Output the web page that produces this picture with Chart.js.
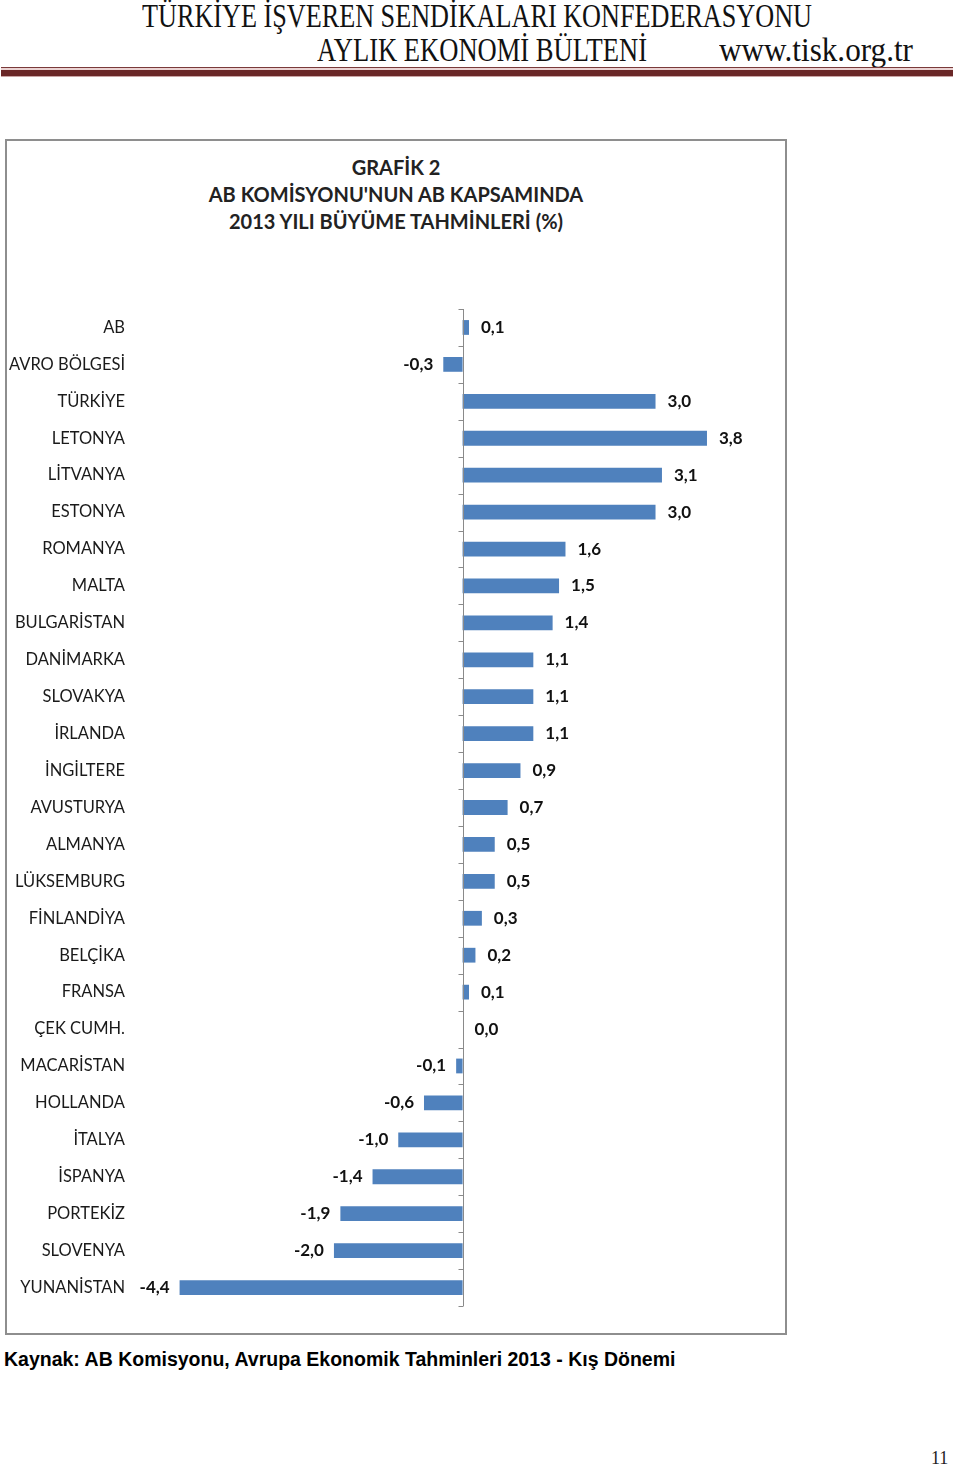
<!DOCTYPE html>
<html>
<head>
<meta charset="utf-8">
<script src="https://cdn.jsdelivr.net/npm/chart.js@4.4.1/dist/chart.umd.min.js"></script>
<style>
  html, body { margin: 0; padding: 0; background: #fff; }
  body { width: 960px; height: 1465px; position: relative; overflow: hidden; }
  .hdr { position: absolute; font-family: "Liberation Serif", serif; color: #111; white-space: nowrap; transform-origin: 0 0; line-height: 1; }
  #rule { position: absolute; left: 1px; top: 67px; width: 952px; height: 10px; }
  #rule div { position: absolute; left: 0; width: 100%; }
  #box { position: absolute; left: 5px; top: 139px; width: 778px; height: 1192px; border: 2px solid #8e8e8e; }
  #title { position: absolute; left: 5px; top: 154px; width: 782px; text-align: center; font-family: Lato, "Open Sans", sans-serif; font-weight: bold; font-size: 20px; line-height: 27px; color: #222; }
  #wrap { position: absolute; left: 6px; top: 140px; width: 779px; height: 1193px; }
  #src { position: absolute; left: 4px; top: 1348px; font-family: "Liberation Sans", Arial, sans-serif; font-weight: bold; font-size: 19.5px; color: #000; white-space: nowrap; }
  #pg { position: absolute; left: 931px; top: 1448px; font-family: "Liberation Serif", serif; font-size: 18px; color: #222; }
</style>
</head>
<body>
<div class="hdr" id="h1" data-w="670" style="left:142px; top:0px; font-size:33px;">TÜRKİYE İŞVEREN SENDİKALARI KONFEDERASYONU</div>
<div class="hdr" id="h2" data-w="330" style="left:317px; top:34px; font-size:33px;">AYLIK EKONOMİ BÜLTENİ</div>
<div class="hdr" id="h3" data-w="194" style="left:719px; top:34px; font-size:33px;">www.tisk.org.tr</div>
<div id="rule">
  <div style="top:0; height:1px; background:#7a3a3a;"></div>
  <div style="top:1px; height:2px; background:#ead2d2;"></div>
  <div style="top:3px; height:6px; background:#6a2727;"></div>
  <div style="top:9px; height:1px; background:#caa4a4;"></div>
</div>
<div id="box"></div>
<div id="title">GRAFİK 2<br>AB KOMİSYONU'NUN AB KAPSAMINDA<br>2013 YILI BÜYÜME TAHMİNLERİ (%)</div>
<div id="wrap"><canvas id="c"></canvas></div>
<div id="src">Kaynak: AB Komisyonu, Avrupa Ekonomik Tahminleri 2013 - Kış Dönemi</div>
<div id="pg">11</div>
<script>
// ---- data ----
const categories = ["AB", "AVRO BÖLGESİ", "TÜRKİYE", "LETONYA", "LİTVANYA", "ESTONYA", "ROMANYA", "MALTA", "BULGARİSTAN", "DANİMARKA", "SLOVAKYA", "İRLANDA", "İNGİLTERE", "AVUSTURYA", "ALMANYA", "LÜKSEMBURG", "FİNLANDİYA", "BELÇİKA", "FRANSA", "ÇEK CUMH.", "MACARİSTAN", "HOLLANDA", "İTALYA", "İSPANYA", "PORTEKİZ", "SLOVENYA", "YUNANİSTAN"];
const growth2013 = [0.1, -0.3, 3.0, 3.8, 3.1, 3.0, 1.6, 1.5, 1.4, 1.1, 1.1, 1.1, 0.9, 0.7, 0.5, 0.5, 0.3, 0.2, 0.1, 0.0, -0.1, -0.6, -1.0, -1.4, -1.9, -2.0, -4.4];

// fit header text widths
document.querySelectorAll('.hdr').forEach(el => {
  const target = +el.dataset.w;
  const w = el.getBoundingClientRect().width;
  el.style.transform = 'scaleX(' + (target / w) + ')';
});

const fmt = v => v.toFixed(1).replace('.', ',');

const axisPlugin = {
  id: 'zeroAxis',
  afterDatasetsDraw(chart) {
    const { ctx, chartArea, scales } = chart;
    const x0 = Math.round(scales.x.getPixelForValue(0)) + 0.5;
    const y = scales.y;
    const n = categories.length;
    const band = (y.getPixelForValue(n - 1) - y.getPixelForValue(0)) / (n - 1);
    ctx.save();
    ctx.strokeStyle = '#8a8a8a';
    ctx.lineWidth = 1;
    ctx.beginPath();
    ctx.moveTo(x0, chartArea.top);
    ctx.lineTo(x0, chartArea.bottom);
    for (let i = 0; i <= n; i++) {
      const yy = Math.round(y.getPixelForValue(0) - band / 2 + i * band) + 0.5;
      ctx.moveTo(x0 - 5, yy);
      ctx.lineTo(x0, yy);
    }
    ctx.stroke();
    // data labels
    ctx.font = 'bold 17px Lato, "Open Sans", sans-serif';
    ctx.fillStyle = '#111';
    ctx.textBaseline = 'middle';
    const meta = chart.getDatasetMeta(0);
    meta.data.forEach((bar, i) => {
      const v = growth2013[i];
      if (v < 0) {
        ctx.textAlign = 'right';
        ctx.fillText(fmt(v), bar.x - 10, bar.y);
      } else {
        ctx.textAlign = 'left';
        ctx.fillText(fmt(v), bar.x + 12, bar.y);
      }
    });
    ctx.restore();
  }
};

new Chart(document.getElementById('c'), {
  type: 'bar',
  data: {
    labels: categories,
    datasets: [{
      data: growth2013,
      backgroundColor: '#4f81bd',
      borderWidth: 0,
      barPercentage: 0.4,
      categoryPercentage: 1.0
    }]
  },
  options: {
    indexAxis: 'y',
    responsive: true,
    maintainAspectRatio: false,
    animation: false,
    layout: { padding: { top: 169, bottom: 27, left: 0, right: 33 } },
    plugins: { legend: { display: false }, tooltip: { enabled: false }, title: { display: false } },
    scales: {
      x: { display: false, min: -5, max: 4.5 },
      y: {
        grid: { display: false, drawTicks: false },
        border: { display: false },
        afterFit(scale) { scale.width = 135; },
        ticks: {
          padding: 16,
          autoSkip: false,
          color: '#1a1a1a',
          font: { family: 'Lato, "Open Sans", sans-serif', size: 16.5 }
        }
      }
    }
  },
  plugins: [axisPlugin]
});
</script>
</body>
</html>
